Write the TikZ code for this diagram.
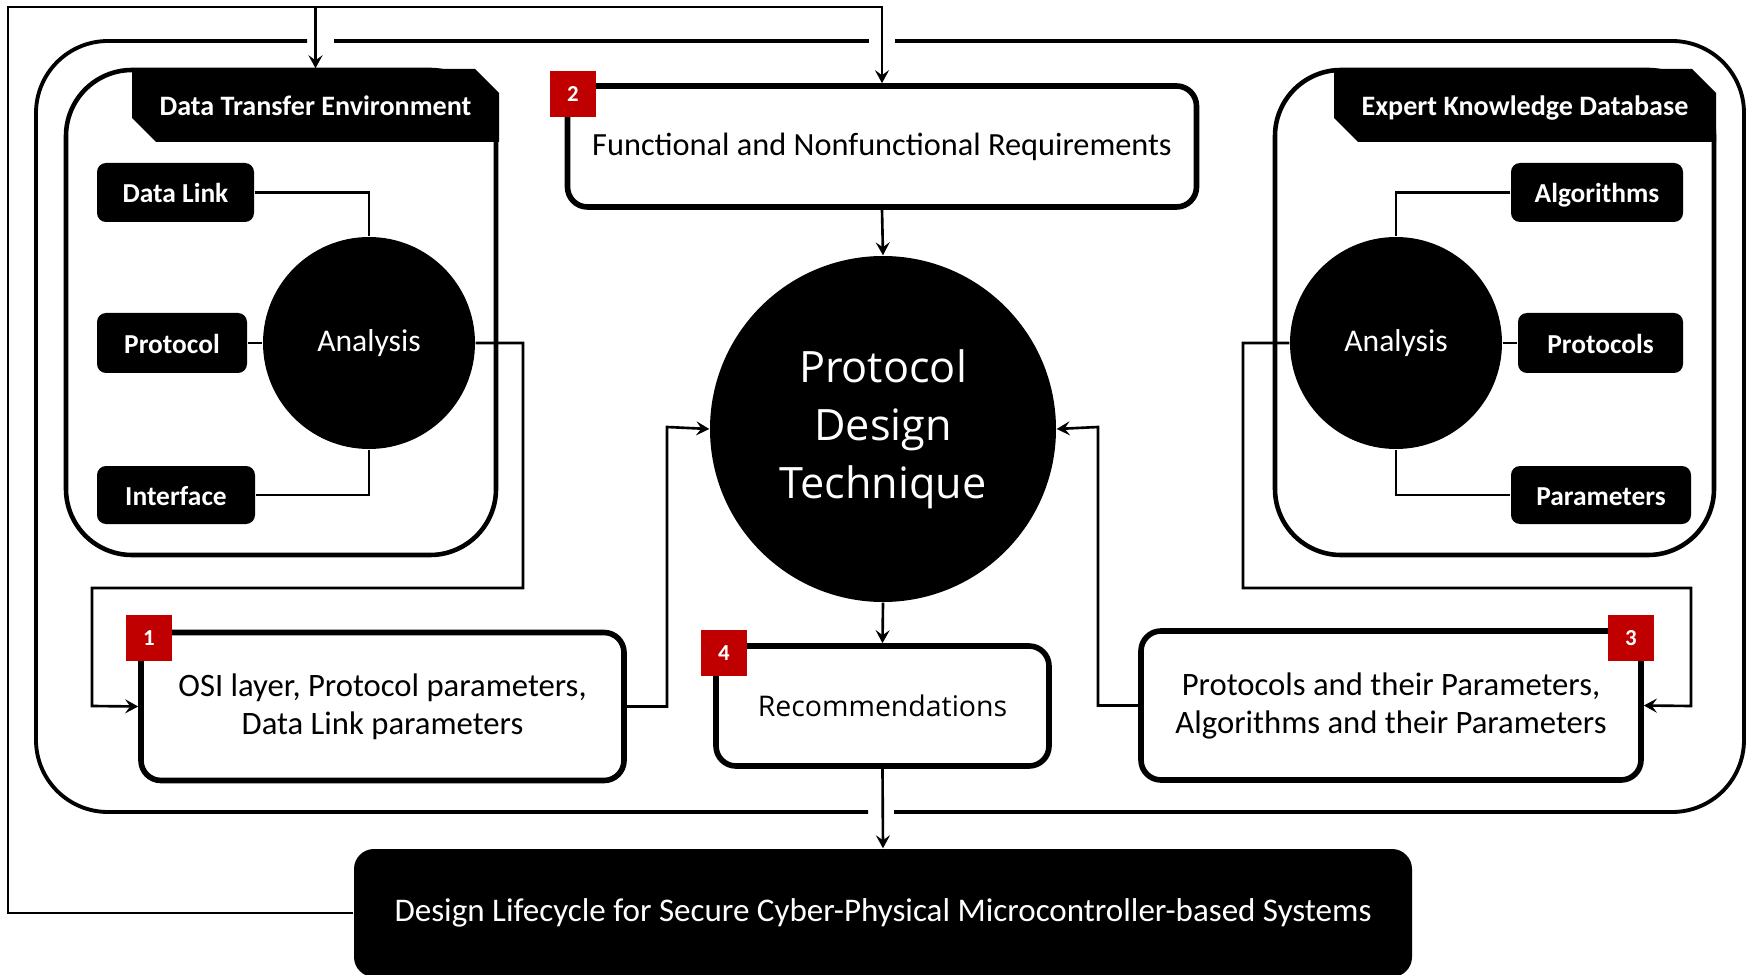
\documentclass[tikz,border=0pt]{standalone}
\usepackage{fontspec}
\setmainfont{Carlito}
\newfontfamily\segoe{Open Sans}
\usetikzlibrary{arrows.meta,shapes.misc}
\definecolor{badgered}{HTML}{C00000}
\tikzset{
  con/.style={line width=0.75pt},
  fb/.style={line width=0.8pt},
  tip/.style={-{Stealth[length=1.3mm,width=1.4mm,inset=0.5mm]}},
  blk/.style={fill=black,text=white,rounded corners=0.9mm,inner sep=0pt,text height=1.6ex,text depth=0.4ex,font=\bfseries\fontsize{7.8}{9}\selectfont},
  ana/.style={circle,fill=black,text=white,minimum size=21.2mm,inner sep=0pt,font=\fontsize{9}{11}\selectfont},
  stage/.style={draw,line width=1.6pt,rounded corners=2mm,fill=white,align=center,inner sep=0pt,font=\fontsize{9.3}{10.8}\selectfont},
  badge/.style={fill=badgered,text=white,minimum size=4.6mm,inner sep=0pt,font=\bfseries\fontsize{6.5}{7}\selectfont},
  hdr/.style={chamfered rectangle,chamfered rectangle corners={north east,south west},chamfered rectangle sep=1.2mm,fill=black,text=white,inner sep=0pt,text height=1.6ex,text depth=0.4ex,font=\bfseries\fontsize{8}{9}\selectfont},
  panel/.style={line width=1.3pt,rounded corners=6.6mm},
}
\begin{document}
\begin{tikzpicture}[x=0.1mm,y=-0.1mm]
	\useasboundingbox (0,0) rectangle (1747,975);
  %grid for editing coordinates
	%\draw[thin,gray!40,step=100] (0,0) grid (1747,975);

  %outer frame with gaps for the arrows
	\draw[line width=1.1pt,rounded corners=7.2mm] (895,41) -- (1744,41) -- (1744,812) -- (894,812);
	\draw[line width=1.1pt,rounded corners=7.2mm] (868,812) -- (36,812) -- (36,41) -- (307,41);
	\draw[line width=1.1pt] (334,41) -- (869,41);

  %data transfer environment
	\draw[panel] (66,70) rectangle (496,555);
	\node[hdr,minimum width=36.7mm,minimum height=7.3mm] (dteh) at (315.5,105.5) {Data Transfer Environment};
	\node[blk,minimum width=15.7mm,minimum height=5.9mm] (dlink) at (175.5,192.5) {Data Link};
	\node[blk,minimum width=15.0mm,minimum height=6.0mm] (prot) at (172,343) {Protocol};
	\node[blk,minimum width=15.8mm,minimum height=5.8mm] (intf) at (176,495) {Interface};
	\node[ana] (ana1) at (369,343) {Analysis};
	\draw[con] (dlink.east) -| (ana1.north);
	\draw[con] (prot.east) -- (ana1.west);
	\draw[con] (intf.east) -| (ana1.south);

  %expert knowledge database
	\draw[panel] (1275,70) rectangle (1714,555);
	\node[hdr,minimum width=38.2mm,minimum height=7.3mm] (ekdh) at (1525,105.5) {Expert Knowledge Database};
	\node[blk,minimum width=17.2mm,minimum height=5.9mm] (algo) at (1597,192.5) {Algorithms};
	\node[blk,minimum width=16.5mm,minimum height=6.0mm] (prots) at (1600.5,343) {Protocols};
	\node[blk,minimum width=18.0mm,minimum height=5.8mm] (param) at (1601,495) {Parameters};
	\node[ana] (ana2) at (1396,343) {Analysis};
	\draw[con] (algo.west) -| (ana2.north);
	\draw[con] (prots.west) -- (ana2.east);
	\draw[con] (param.west) -| (ana2.south);

  %stages 1-4
	\node[stage,minimum width=62.9mm,minimum height=12.1mm,font=\fontsize{9.2}{11}\selectfont] (b2) at (882,146.5) {Functional and Nonfunctional Requirements};
	\node[stage,minimum width=48.3mm,minimum height=14.8mm] (b1) at (382.5,706.5) {OSI layer, Protocol parameters,\\Data Link parameters};
	\node[stage,minimum width=33.3mm,minimum height=12.0mm,font=\segoe\fontsize{8.1}{10}\selectfont] (b4) at (882.5,706) {Recommendations};
	\node[stage,minimum width=50.0mm,minimum height=14.9mm] (b3) at (1391,705.5) {Protocols and their Parameters,\\Algorithms and their Parameters};
	\node[badge] (bd1) at (149,638) {1};
	\node[badge] (bd2) at (573,94) {2};
	\node[badge] (bd3) at (1631,638) {3};
	\node[badge] (bd4) at (724,653) {4};

  %technique
	\node[ana,minimum size=34.6mm,align=center,font=\segoe\fontsize{12.3}{16.5}\selectfont] (pdt) at (883,429) {Protocol\\Design\\Technique};

  %lifecycle
	\node[fill=black,text=white,rounded corners=2mm,minimum width=105.8mm,minimum height=12.8mm,font=\fontsize{9.4}{11}\selectfont] (dsgn) at (883,913) {Design Lifecycle for Secure Cyber-Physical Microcontroller-based Systems};

  %flow
	\draw[con,tip] (ana1.east) -| (523,588) -| (92,706) -- (b1.west);
	\draw[con,tip] (ana2.west) -| (1243,588) -| (1691,706) -- (b3.east);
	\draw[con,tip] (b1.east) -| (667,427) -- (pdt.west);
	\draw[con,tip] (b3.west) -| (1098,427) -- (pdt.east);
	\draw[con,tip] (b2.south) -- (pdt.north);
	\draw[con,tip] (pdt.south) -- (b4.north);
	\draw[con,tip] (b4.south) -- (dsgn.north);

  %feedback loop
	\coordinate (fbtop) at (8,7);
	\draw[fb,tip] (dsgn.west) -| (fbtop) -| (b2.north);
	\draw[fb,tip] (dteh.north |- fbtop) -- (dteh.north);
\end{tikzpicture}
\end{document}
